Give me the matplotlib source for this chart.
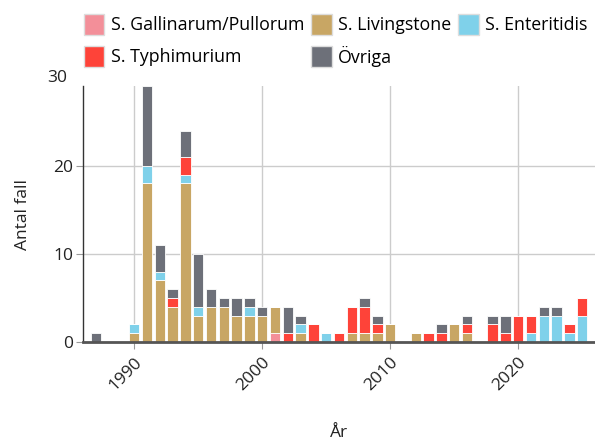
import matplotlib.pyplot as plt
from matplotlib.patches import Patch
from matplotlib.transforms import blended_transform_factory

plt.rcParams['font.family'] = ['Open Sans', 'DejaVu Sans']

years = list(range(1987, 2026))

# antal fall per år och serotyp
gallinarum = [0, 0, 0, 0, 0, 0, 0, 0, 0, 0, 0, 0, 0, 0,
              1, 0, 0, 0, 0, 0, 0, 0, 0, 0, 0, 0, 0, 0, 0, 0, 0, 0, 0, 0, 0, 0, 0, 0, 0]
livingstone = [0, 0, 0, 1, 18, 7, 4, 18, 3, 4, 4, 3, 3, 3,
               3, 0, 1, 0, 0, 0, 1, 1, 1, 2, 0, 1, 0, 0, 2, 1, 0, 0, 0, 0, 0, 0, 0, 0, 0]
enteritidis = [0, 0, 0, 1, 2, 1, 0, 1, 1, 0, 0, 0, 1, 0,
               0, 0, 1, 0, 1, 0, 0, 0, 0, 0, 0, 0, 0, 0, 0, 0, 0, 0, 0, 0, 1, 3, 3, 1, 3]
typhimurium = [0, 0, 0, 0, 0, 0, 1, 2, 0, 0, 0, 0, 0, 0,
               0, 1, 0, 2, 0, 1, 3, 3, 1, 0, 0, 0, 1, 1, 0, 1, 0, 2, 1, 3, 2, 0, 0, 1, 2]
ovriga = [1, 0, 0, 0, 9, 3, 1, 3, 6, 2, 1, 2, 1, 1,
          0, 3, 1, 0, 0, 0, 0, 1, 1, 0, 0, 0, 0, 1, 0, 1, 0, 1, 2, 0, 0, 1, 1, 0, 0]

series = [
    ('S. Gallinarum/Pullorum', gallinarum, '#f38f99'),
    ('S. Livingstone', livingstone, '#c8a664'),
    ('S. Enteritidis', enteritidis, '#7fd1ea'),
    ('S. Typhimurium', typhimurium, '#fe4339'),
    ('Övriga', ovriga, '#6d7079'),
]

fig = plt.figure(figsize=(5.95, 4.41), dpi=100)
ax = fig.add_axes([83 / 595, 1 - 342 / 441, 1 - 83 / 595, (342 - 86.5) / 441])

bottom = [0] * len(years)
for name, vals, color in series:
    ax.bar(years, vals, width=0.8, bottom=bottom, color=color,
           edgecolor='white', linewidth=0.6, zorder=3)
    bottom = [b + v for b, v in zip(bottom, vals)]

ax.set_xlim(1986, 2026)
ax.set_ylim(0, 29)
ax.set_yticks([0, 10, 20])
ax.set_xticks([1990, 2000, 2010, 2020])
ax.grid(True, color='#cccccc', linewidth=1, zorder=0)
ax.set_axisbelow(True)

# etiketten 30 ligger ovanför axelns topp
trans = blended_transform_factory(ax.transAxes, ax.transData)
ax.text(-0.03, 30, '30', transform=trans, ha='right', va='center',
        fontsize=12.5, color='#222222', clip_on=False)

for s in ['top', 'right']:
    ax.spines[s].set_visible(False)
ax.spines['left'].set_color('#333333')
ax.spines['left'].set_linewidth(1)
ax.spines['bottom'].set_color('#555555')
ax.spines['bottom'].set_linewidth(2)
ax.spines['bottom'].set_zorder(4)

ax.tick_params(axis='y', length=5, color='#999999', labelsize=12.5,
               labelcolor='#222222', pad=2)
ax.tick_params(axis='x', length=5, color='#999999', labelsize=12.5,
               labelcolor='#222222', pad=4)
for lab in ax.get_xticklabels():
    lab.set_rotation(45)
    lab.set_ha('right')
    lab.set_rotation_mode('anchor')

ax.set_xlabel('År', fontsize=12.5, color='#222222', labelpad=22)
ax.set_ylabel('Antal fall', fontsize=12.5, color='#222222', labelpad=16)

order = [0, 3, 1, 4, 2]
handles = [Patch(facecolor=series[i][2], edgecolor='#dddddd') for i in order]
labels = [series[i][0] for i in order]
fig.legend(handles, labels, ncol=3, loc='upper left',
           bbox_to_anchor=(84 / 595, 1 - 14 / 441), frameon=False,
           fontsize=12.8, handlelength=1.15, handleheight=1.45,
           handletextpad=0.35, columnspacing=0.4, labelspacing=0.6,
           borderaxespad=0, borderpad=0)

fig.savefig('out.png', dpi=100)
